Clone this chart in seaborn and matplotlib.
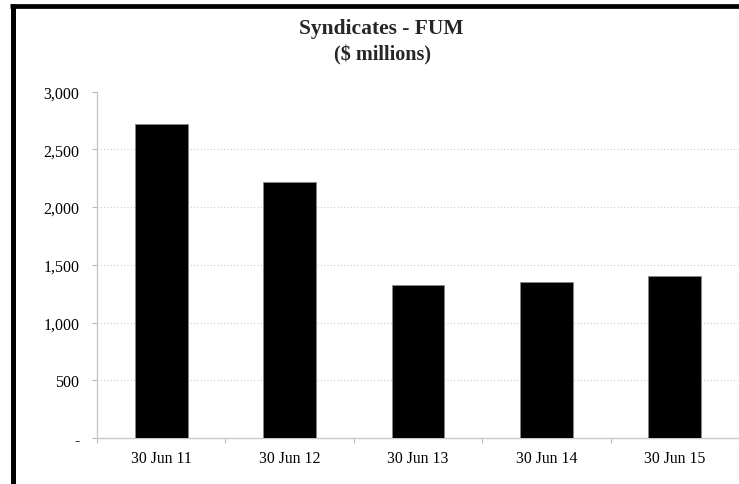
import matplotlib
matplotlib.use("Agg")
import matplotlib.pyplot as plt
from matplotlib.lines import Line2D
import seaborn as sns
import pandas as pd

periods = ["30 Jun 11", "30 Jun 12", "30 Jun 13", "30 Jun 14", "30 Jun 15"]
fum = [2720, 2215, 1322, 1354, 1400]
y_ticks = [0, 500, 1000, 1500, 2000, 2500, 3000]
y_tick_labels = ["-", "500", "1,000", "1,500", "2,000", "2,500", "3,000"]

sns.set_theme(style="white")
plt.rcParams["font.family"] = ["Liberation Serif", "DejaVu Serif"]

df = pd.DataFrame({"period": periods, "fum": fum})

fig = plt.figure(figsize=(7.39, 4.85), dpi=100)
ax = fig.add_axes([97 / 739, 1 - 439 / 485, 642 / 739, (439 - 92.7) / 485])

sns.barplot(data=df, x="period", y="fum", color="black", width=0.41,
            edgecolor="#888888", linewidth=0.6, saturation=1, ax=ax, zorder=3)

n = len(periods)
ax.set_ylim(0, 3000)
ax.set_xlim(-0.5, n - 0.5)
ax.set_yticks(y_ticks)
ax.set_yticklabels(y_tick_labels)
# category boundaries carry the tick marks, category centres carry the labels
ax.set_xticks([i - 0.5 for i in range(n + 1)])
ax.set_xticklabels([""] * (n + 1))
ax.set_xticks(range(n), minor=True)
ax.set_xticklabels(periods, minor=True)
ax.tick_params(axis="x", which="minor", bottom=False, length=0, pad=9,
               labelsize=11.3, colors="black")
ax.tick_params(axis="x", which="major", bottom=True, length=3.6, width=0.8,
               color="#bbbbbb", direction="out")
ax.tick_params(axis="y", left=True, length=3.6, width=0.8, color="#bbbbbb",
               direction="out", labelsize=11.5, labelcolor="black", pad=9)
ax.set_xlabel("")
ax.set_ylabel("")

for v in y_ticks[1:-1]:
    ax.axhline(v, color="#cccccc", linewidth=0.8, linestyle=(0, (1, 2)), zorder=1)

for side in ["top", "right"]:
    ax.spines[side].set_visible(False)
for side in ["left", "bottom"]:
    ax.spines[side].set_color("#c8c8c8")
    ax.spines[side].set_linewidth(1.0)

fig.text(381 / 739, 1 - 29 / 485, "Syndicates - FUM", ha="center", va="center",
         fontsize=15.5, fontweight="bold")
fig.text(382 / 739, 1 - 55 / 485, "($ millions)", ha="center", va="center",
         fontsize=14.5, fontweight="bold")

# frame strokes along the top and left edges
fig.add_artist(Line2D([10 / 739, 1.0], [1 - 7 / 485, 1 - 7 / 485],
                      transform=fig.transFigure, color="black", linewidth=3.4,
                      solid_capstyle="butt"))
fig.add_artist(Line2D([12.5 / 739, 12.5 / 739], [0, 1 - 5 / 485],
                      transform=fig.transFigure, color="black", linewidth=3.6,
                      solid_capstyle="butt"))

fig.savefig("out.png", dpi=100)
